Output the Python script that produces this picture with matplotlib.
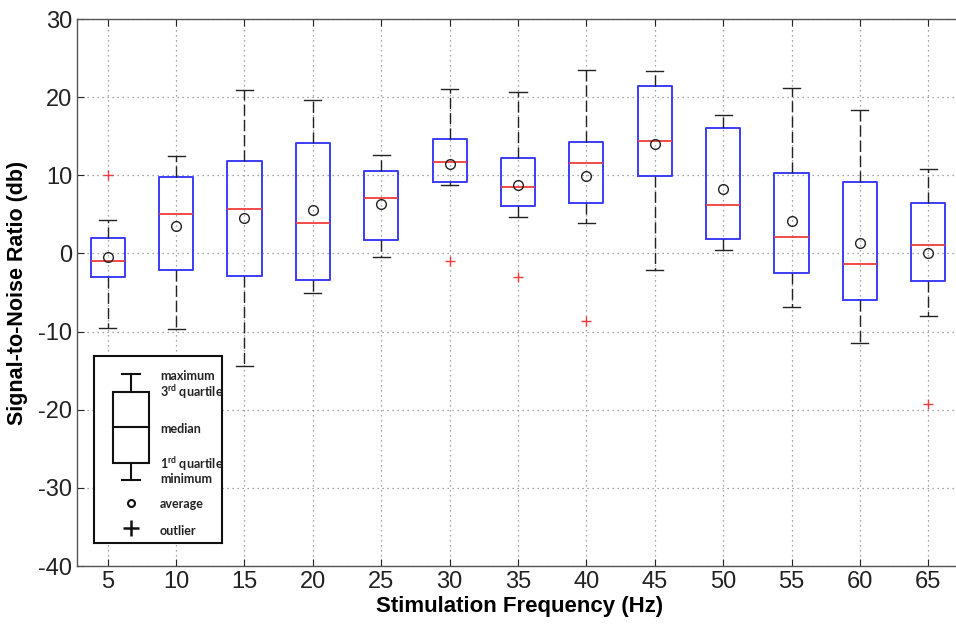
import numpy as np
import matplotlib
matplotlib.use("Agg")
import matplotlib.pyplot as plt

plt.rcParams['font.family'] = ['Liberation Sans Narrow', 'Liberation Sans', 'DejaVu Sans']
plt.rcParams['axes.unicode_minus'] = False
plt.rcParams['mathtext.fontset'] = 'custom'
plt.rcParams['mathtext.rm'] = 'Lato:bold'

#==== data ====
freqs    = [5, 10, 15, 20, 25, 30, 35, 40, 45, 50, 55, 60, 65]
whis_hi  = [4.3, 12.5, 20.9, 19.7, 12.6, 21.1, 20.7, 23.5, 23.4, 17.7, 21.2, 18.4, 10.8]
q3       = [2.0, 9.8, 11.8, 14.1, 10.6, 14.6, 12.2, 14.2, 21.4, 16.1, 10.3, 9.1, 6.4]
medians  = [-1.0, 5.0, 5.7, 3.9, 7.1, 11.7, 8.5, 11.6, 14.4, 6.2, 2.1, -1.3, 1.1]
q1       = [-3.0, -2.1, -2.9, -3.4, 1.7, 9.1, 6.1, 6.4, 9.9, 1.8, -2.5, -5.9, -3.5]
whis_lo  = [-9.6, -9.7, -14.4, -5.1, -0.5, 8.8, 4.7, 3.9, -2.1, 0.4, -6.9, -11.5, -8.0]
means    = [-0.4, 3.5, 4.5, 5.5, 6.3, 11.4, 8.8, 9.9, 14.0, 8.3, 4.2, 1.3, 0.0]
outliers = [[10.1], [], [], [], [], [-1.0], [-3.0], [-8.7], [], [], [], [], [-19.3]]

yticks = [-40, -30, -20, -10, 0, 10, 20, 30]

#==== figure ====
fig = plt.figure(figsize=(9.56, 6.24), dpi=100)
ax = fig.add_axes([0.0805, 0.0929, 0.9263, 0.8766])

stats = []
for i in range(len(freqs)):
    stats.append(dict(med=medians[i], q1=q1[i], q3=q3[i], whislo=whis_lo[i],
                      whishi=whis_hi[i], mean=means[i], fliers=outliers[i]))

pos = np.arange(1, len(freqs) + 1)
ax.bxp(stats, positions=pos, widths=0.5, showmeans=True,
       boxprops=dict(color='#3c3cf5', linewidth=1.4),
       medianprops=dict(color='#f03c3c', linewidth=1.3),
       whiskerprops=dict(color='#222222', linewidth=1.0, linestyle=(0, (8, 3))),
       capprops=dict(color='#222222', linewidth=1.0),
       meanprops=dict(marker='o', markerfacecolor='none', markeredgecolor='#222222',
                      markersize=7, markeredgewidth=1.0),
       flierprops=dict(marker='+', markeredgecolor='#f03c3c', markersize=7,
                       markeredgewidth=1.0))

ax.set_xlim(0.55, 13.5)
ax.set_ylim(-40, 30)
ax.set_xticks(pos)
ax.set_xticklabels([str(f) for f in freqs])
ax.set_yticks(yticks)
ax.tick_params(direction='in', length=5, top=True, labelsize=17, colors='#222222')
ax.grid(True, linestyle=(0, (1, 3)), color='#888888', linewidth=0.9)
ax.set_axisbelow(True)
for s in ax.spines.values():
    s.set_color('#555555')
    s.set_linewidth(1.0)

ax.set_xlabel('Stimulation Frequency (Hz)', fontsize=16, fontweight='bold', labelpad=2)
ax.set_ylabel('Signal-to-Noise Ratio (db)', fontsize=15.5, fontweight='bold')
ax.yaxis.set_label_coords(-0.055, 0.5)

#==== explanatory key (inset) ====
key = fig.add_axes([0.0983, 0.1293, 0.1336, 0.3006])
key.set_xlim(0, 1)
key.set_ylim(0, 1)
key.set_xticks([])
key.set_yticks([])
for s in key.spines.values():
    s.set_linewidth(1.5)
    s.set_color('#111111')
k = dict(color='#111111', linewidth=1.5)
bx0, bx1, bxc = 0.146, 0.428, 0.287
key.add_patch(plt.Rectangle((bx0, 0.428), bx1 - bx0, 0.806 - 0.428, fill=False, **k))
key.plot([bx0, bx1], [0.618, 0.618], **k)
key.plot([bxc, bxc], [0.806, 0.904], **k)
key.plot([0.216, 0.362], [0.904, 0.904], **k)
key.plot([bxc, bxc], [0.428, 0.336], **k)
key.plot([0.216, 0.362], [0.336, 0.336], **k)
key.plot([bxc], [0.216], marker='o', markersize=5, markerfacecolor='none',
         markeredgecolor='#111111', markeredgewidth=1.5)
key.plot([bxc], [0.08], marker='+', markersize=11, markeredgecolor='#111111',
         markeredgewidth=1.8)
tk = dict(fontsize=9, fontweight='bold', family=['Lato', 'DejaVu Sans'],
          color='#222222', va='center', ha='left')
tx = 0.517
key.text(tx, 0.893, 'maximum', **tk)
key.text(tx, 0.806, '3$^{\\mathrm{rd}}$ quartile', **tk)
key.text(tx, 0.608, 'median', **tk)
key.text(tx, 0.423, '1$^{\\mathrm{rd}}$ quartile', **tk)
key.text(tx, 0.341, 'minimum', **tk)
key.text(tx, 0.208, 'average', **tk)
key.text(tx, 0.064, 'outlier', **tk)

fig.savefig('out.png', dpi=100)
